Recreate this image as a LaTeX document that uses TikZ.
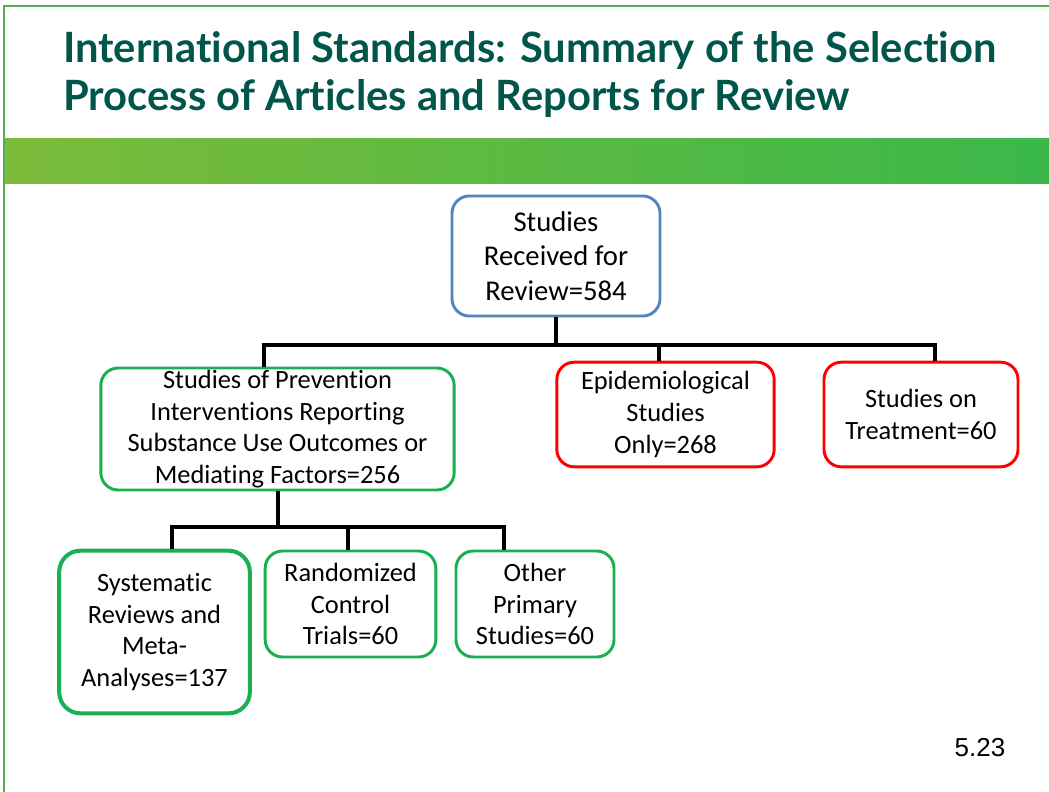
\documentclass[tikz,border=0pt]{standalone}
\usepackage{fontspec}
\setmainfont{Carlito}[RawFeature={-liga;-clig;-calt;-dlig;-rlig}]
\newfontfamily\titlefont{Lato Bold}[RawFeature={-liga;-clig;-calt;-dlig}]
\newfontfamily\numfont{Liberation Sans}
\definecolor{titlecol}{RGB}{0,86,74}
\definecolor{boxblue}{RGB}{84,132,192}
\definecolor{boxgreen}{RGB}{24,176,80}
\definecolor{boxred}{RGB}{255,0,0}
\definecolor{framegreen}{RGB}{86,172,80}
\definecolor{bandleft}{RGB}{124,187,58}
\definecolor{bandright}{RGB}{58,184,74}
\tikzset{
  px/.style={x=0.75pt,y=-0.75pt},
  box/.style={draw,rounded corners=13pt,line width=2.2pt,align=center,inner sep=0pt,
    font=\fontsize{19.8}{23.8}\selectfont},
  bluebox/.style={box,draw=boxblue},
  greenbox/.style={box,draw=boxgreen},
  redbox/.style={box,draw=boxred},
  conn/.style={draw=black,line width=3pt},
  titletext/.style={anchor=base west,inner sep=0pt,text=titlecol,font=\titlefont\fontsize{31.3}{36}\selectfont}
}
\begin{document}
\begin{tikzpicture}[px]
\useasboundingbox (0,0) rectangle (1049,792);
\fill[white] (0,0) rectangle (1049,792);
% frame
\draw[framegreen,line width=1.5pt] (4,792) -- (4,6) -- (1049,6);
% band
\shade[left color=bandleft,right color=bandright] (5,138) rectangle (1049,183);
% title
\node[titletext] (t1) at (63,63) {International Standards: Summary of the Selection};
\node[titletext] (t2) at (63,110) {Process of Articles and Reports for Review};
% boxes
\node[bluebox,minimum width=156pt,minimum height=90pt,font=\fontsize{21.5}{26}\selectfont] (T) at (556,256)
  {Studies\\Received for\\Review=584};
\node[greenbox,minimum width=265pt,minimum height=91.5pt] (L) at (277.5,429)
  {Studies of Prevention\\Interventions Reporting\\Substance Use Outcomes or\\Mediating Factors=256};
\node[redbox,minimum width=163pt,minimum height=78.5pt] (M) at (665.5,414.5)
  {Epidemiological\\Studies\\Only=268};
\node[redbox,minimum width=145.5pt,minimum height=78.5pt] (R) at (921,414.5)
  {Studies on\\Treatment=60};
\node[greenbox,line width=3pt,rounded corners=16pt,minimum width=143pt,minimum height=122pt] (S) at (154.5,632)
  {Systematic\\Reviews and\\Meta-\\Analyses=137};
\node[greenbox,minimum width=128pt,minimum height=79.5pt] (RC) at (350.5,604)
  {Randomized\\Control\\Trials=60};
\node[greenbox,minimum width=118.5pt,minimum height=79.5pt] (O) at (535,604)
  {Other\\Primary\\Studies=60};
% connectors level 1
\coordinate (hL) at (264,345);
\coordinate (hM) at (659,345);
\coordinate (hR) at (935,345);
\draw[conn] (T.south) -- (T.south |- hL);
\draw[conn] (hL |- L.north) -- (hL) -- (hR) -- (hR |- R.north);
\draw[conn] (hM) -- (hM |- M.north);
% connectors level 2
\coordinate (gS) at (172,527);
\coordinate (gR) at (348,527);
\coordinate (gO) at (504,527);
\draw[conn] (L.south) -- (L.south |- gR);
\draw[conn] (gS |- S.north) -- (gS) -- (gO) -- (gO |- O.north);
\draw[conn] (gR) -- (gR |- RC.north);
% page number
\node[font=\numfont\fontsize{19.5}{22}\selectfont,inner sep=0pt] (pg) at (980,748) {5.23};
\end{tikzpicture}
\end{document}
